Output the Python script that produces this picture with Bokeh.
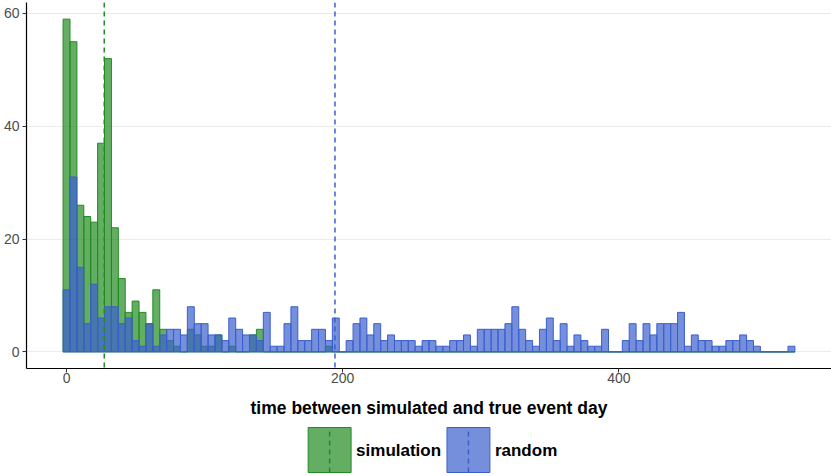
from bokeh.plotting import figure
from bokeh.models import Range1d, Span, FixedTicker
from bokeh.layouts import column
from bokeh.core.properties import value
from bokeh.embed import file_html
from bokeh.resources import INLINE

# ---- data (histogram, binwidth 5 days, bins centred at 0, 5, 10, ...) ----
bin_width = 5
bin_centers = [i * bin_width for i in range(106)]

simulation_counts = [
    59, 55, 26, 24, 23, 37, 52, 22, 13, 7, 9, 7, 5, 11,
    4, 2, 1, 0, 4, 3, 1, 1, 3, 0, 1, 0, 0, 3, 4, 0, 0, 0, 0, 0, 0, 0, 0, 0, 1,
] + [0] * 67

random_counts = [
    11, 31, 15, 5, 12, 6, 8, 8, 5, 6, 2, 1, 5, 1,
    3, 4, 4, 3, 8, 5, 5, 3, 3, 2, 6, 4, 3, 3, 2, 7, 1, 1, 5, 8, 2, 2, 4, 4, 2, 6,
    0, 2, 5, 6, 3, 5, 2, 3, 2, 2, 2, 1, 2, 2, 1, 1, 2, 2, 3, 1, 4, 4, 4, 4, 5,
    8, 4, 2, 1, 4, 6, 2, 5, 1, 3, 2, 1, 1, 4, 0, 0, 2, 5, 2, 5, 3, 5, 5, 5, 7,
    1, 3, 2, 2, 1, 1, 2, 2, 3, 2, 1, 0, 0, 0, 0, 1,
]

simulation_mean = 27.3
random_mean = 194.4

series_labels = ["simulation", "random"]
x_ticks = [0, 200, 400]
y_ticks = [0, 20, 40, 60]
x_title = "time between simulated and true event day"

GREEN = "#228B22"
BLUE = "#3A5FCD"
FILL_ALPHA = 0.7
FONT = "Liberation Sans"

TOTAL_W = 831
MAIN_H = 420
LEG_H = 56

# ---- main histogram ----
x_lo = bin_centers[0] - bin_width / 2
x_hi = bin_centers[-1] + bin_width / 2
x_pad = 0.05 * (x_hi - x_lo)
y_max = max(max(simulation_counts), max(random_counts))
y_pad = 0.05 * y_max

p = figure(width=TOTAL_W, height=MAIN_H,
           x_range=Range1d(x_lo - x_pad, x_hi + x_pad),
           y_range=Range1d(-y_pad, y_max + y_pad),
           output_backend="svg", toolbar_location=None,
           min_border_left=25, min_border_right=0,
           min_border_top=2, min_border_bottom=0)
p.outline_line_color = None
p.background_fill_color = "white"

p.vbar(x=bin_centers, width=bin_width, top=simulation_counts, bottom=0,
       fill_color=GREEN, fill_alpha=FILL_ALPHA, line_color=GREEN, line_width=1)
p.vbar(x=bin_centers, width=bin_width, top=random_counts, bottom=0,
       fill_color=BLUE, fill_alpha=FILL_ALPHA, line_color=BLUE, line_width=1)

p.add_layout(Span(location=simulation_mean, dimension="height",
                  line_color=GREEN, line_dash="5 4", line_width=1.5))
p.add_layout(Span(location=random_mean, dimension="height",
                  line_color=BLUE, line_dash="5 4", line_width=1.5))

p.xgrid.grid_line_color = None
p.ygrid.ticker = FixedTicker(ticks=y_ticks)
p.ygrid.grid_line_color = "#EBEBEB"
p.ygrid.grid_line_width = 1

p.xaxis.ticker = FixedTicker(ticks=x_ticks)
p.yaxis.ticker = FixedTicker(ticks=y_ticks)
for ax in (p.xaxis, p.yaxis):
    ax.axis_line_color = "black"
    ax.axis_line_width = 1.2
    ax.major_tick_line_color = "#333333"
    ax.major_tick_in = 0
    ax.major_tick_out = 4
    ax.minor_tick_line_color = None
    ax.major_label_text_color = "#4D4D4D"
    ax.major_label_text_font = FONT
    ax.major_label_text_font_size = "14px"
p.yaxis.major_label_standoff = 3
p.xaxis.major_label_standoff = 0
p.xaxis.axis_label = x_title
p.xaxis.axis_label_text_font = FONT
p.xaxis.axis_label_text_font_style = "bold"
p.xaxis.axis_label_text_font_size = "17.5px"
p.xaxis.axis_label_text_color = "black"
p.xaxis.axis_label_standoff = 12

# ---- legend (own small panel; its frame is aligned with the main frame) ----
frame_left, frame_right = 25, TOTAL_W
q = figure(width=TOTAL_W, height=LEG_H,
           x_range=Range1d(frame_left, frame_right), y_range=Range1d(0, LEG_H),
           x_axis_location=None, y_axis_location=None,
           output_backend="svg", toolbar_location=None,
           min_border_left=0, min_border_right=0, min_border_top=0, min_border_bottom=0)
q.grid.visible = False
q.outline_line_color = None

key_w = 43
key_bot, key_top = 4, 49
start = 307
text_gap = 5
label_widths = [85, 64]
item_gap = 6
colors = [GREEN, BLUE]

lefts, rights, cx, tx = [], [], [], []
xpos = start
for lw in label_widths:
    lefts.append(xpos)
    rights.append(xpos + key_w)
    cx.append(xpos + key_w / 2)
    tx.append(xpos + key_w + text_gap)
    xpos = xpos + key_w + text_gap + lw + item_gap

q.quad(left=lefts, right=rights, bottom=key_bot, top=key_top,
       fill_color=colors, fill_alpha=FILL_ALPHA, line_color=colors, line_width=1)
q.segment(x0=cx, x1=cx, y0=key_bot, y1=key_top, line_color=colors,
          line_dash="5 4", line_width=1.5)
q.text(x=tx, y=[(key_bot + key_top) / 2] * 2, text=series_labels,
       text_font=value(FONT), text_font_style="bold", text_font_size="17px",
       text_color="black", text_baseline="middle", text_align="left")

layout = column(p, q, spacing=0)
open("out.html", "w").write(file_html(layout, INLINE))
